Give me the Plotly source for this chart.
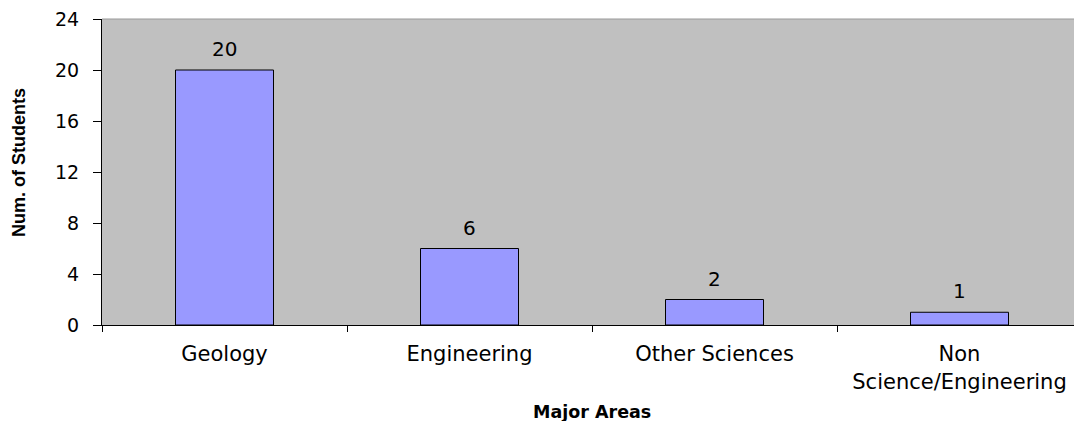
import plotly.graph_objects as go

categories = ["Geology", "Engineering", "Other Sciences", "Non<br>Science/Engineering"]
students = [20, 6, 2, 1]
y_ticks = [0, 4, 8, 12, 16, 20, 24]

TXT = "DejaVu Sans"

fig = go.Figure()
fig.add_trace(go.Bar(
    x=categories, y=students,
    marker=dict(color="#9999FF", line=dict(color="black", width=1)),
    width=0.4,
    hoverinfo="x+y",
))

# value labels above bars
for c, v in zip(categories, students):
    fig.add_annotation(x=c, y=v, xref="x", yref="y", text=str(v), showarrow=False,
                       yanchor="bottom", yshift=7,
                       font=dict(family=TXT, size=20, color="black"))

fig.update_layout(
    width=1074, height=421,
    margin=dict(l=102, r=0, t=19, b=96),
    paper_bgcolor="white", plot_bgcolor="#C0C0C0",
    font=dict(family=TXT, size=19, color="black"),
    showlegend=False,
)
fig.update_xaxes(
    type="category", range=[-0.5, 3.5 - 8/245],
    tickson="boundaries", ticks="outside", ticklen=6, tickcolor="black",
    showline=True, linecolor="black", linewidth=1,
    showgrid=False, ticklabelstandoff=10,
    tickfont=dict(family=TXT, size=21),
)
fig.update_yaxes(
    range=[0, 24], tickvals=y_ticks, ticks="outside", ticklen=8, tickcolor="black",
    showline=True, linecolor="black", linewidth=1, showgrid=False, zeroline=False,
    ticklabelstandoff=10, ticklabeloverflow="allow",
    tickfont=dict(family=TXT, size=19),
)
# axis titles
fig.add_annotation(text="<b>Major Areas</b>", xref="x", x=1.5, yref="paper", y=-0.284,
                   yanchor="middle", showarrow=False,
                   font=dict(family=TXT, size=17.5, color="black"))
fig.add_annotation(text="<b>Num. of Students</b>", xref="paper", x=-0.0854, yref="paper", y=0.533,
                   xanchor="center", yanchor="middle", textangle=-90, showarrow=False,
                   font=dict(family="Liberation Sans", size=18, color="black"))
fig.add_shape(type="line", xref="paper", yref="paper", x0=0, x1=1, y0=1, y1=1,
              line=dict(color="#999999", width=1))

fig.write_html("out.html",
               config={"displayModeBar": False},
               post_script="document.body.style.margin='0';document.body.style.overflow='hidden';")
